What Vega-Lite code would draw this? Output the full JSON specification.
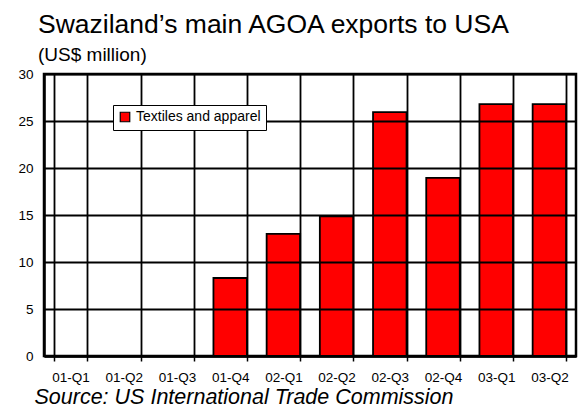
{
  "$schema": "https://vega.github.io/schema/vega-lite/v6.json",
  "width": 532,
  "height": 282,
  "autosize": {"type": "none"},
  "padding": {"left": 44, "top": 74, "right": 11, "bottom": 51},
  "background": "white",
  "config": {
    "font": "Liberation Sans",
    "view": {"stroke": "black", "strokeWidth": 2.5},
    "axis": {
      "labelFont": "Liberation Sans",
      "titleFont": "Liberation Sans",
      "labelColor": "black",
      "titleColor": "black"
    }
  },
  "title": {
    "text": "Swaziland’s main AGOA exports to USA",
    "subtitle": "(US$ million)",
    "anchor": "start",
    "frame": "group",
    "dx": -6,
    "offset": 2,
    "fontSize": 26.5,
    "fontWeight": "normal",
    "color": "black",
    "font": "Liberation Sans",
    "subtitleFont": "Liberation Sans",
    "subtitleFontSize": 19,
    "subtitleColor": "black",
    "subtitlePadding": 8
  },
  "data": {
    "values": [
      {"quarter": "01-Q1", "value": 0, "series": "Textiles and apparel"},
      {"quarter": "01-Q2", "value": 0, "series": "Textiles and apparel"},
      {"quarter": "01-Q3", "value": 0, "series": "Textiles and apparel"},
      {"quarter": "01-Q4", "value": 8.3, "series": "Textiles and apparel"},
      {"quarter": "02-Q1", "value": 13.0, "series": "Textiles and apparel"},
      {"quarter": "02-Q2", "value": 14.85, "series": "Textiles and apparel"},
      {"quarter": "02-Q3", "value": 25.95, "series": "Textiles and apparel"},
      {"quarter": "02-Q4", "value": 18.95, "series": "Textiles and apparel"},
      {"quarter": "03-Q1", "value": 26.8, "series": "Textiles and apparel"},
      {"quarter": "03-Q2", "value": 26.8, "series": "Textiles and apparel"}
    ]
  },
  "mark": {"type": "bar", "stroke": "black", "strokeWidth": 1.8, "zindex": 2},
  "encoding": {
    "x": {
      "field": "quarter",
      "type": "nominal",
      "sort": null,
      "scale": {"paddingInner": 0.37, "paddingOuter": 0.185},
      "axis": {
        "tickBand": "extent",
        "grid": true,
        "gridColor": "#000000",
        "gridWidth": 1.8,
        "zindex": 1,
        "domainColor": "black",
        "domainWidth": 2.5,
        "ticks": true,
        "tickColor": "black",
        "tickWidth": 1.5,
        "tickSize": 5,
        "labelAngle": 0,
        "labelFontSize": 13.5,
        "labelPadding": 9,
        "title": "Source: US International Trade Commission",
        "titleFontSize": 21.5,
        "titleFontStyle": "italic",
        "titleFontWeight": "normal",
        "titleAnchor": "start",
        "titleAlign": "left",
        "titleBaseline": "alphabetic",
        "titleX": -10,
        "titleY": 47
      }
    },
    "y": {
      "field": "value",
      "type": "quantitative",
      "scale": {"domain": [0, 30], "nice": false},
      "axis": {
        "values": [0, 5, 10, 15, 20, 25, 30],
        "grid": true,
        "gridColor": "#000000",
        "gridWidth": 1.8,
        "zindex": 1,
        "domainColor": "black",
        "domainWidth": 2.5,
        "ticks": false,
        "labelFontSize": 13.5,
        "labelPadding": 11,
        "title": null
      }
    },
    "color": {
      "field": "series",
      "type": "nominal",
      "scale": {"range": ["#ff0000"]},
      "legend": {
        "title": null,
        "orient": "none",
        "legendX": 69,
        "legendY": 31,
        "zindex": 3,
        "symbolType": "square",
        "symbolSize": 90,
        "symbolStrokeColor": "black",
        "symbolStrokeWidth": 1.2,
        "symbolFillColor": "#ff0000",
        "labelFontSize": 14,
        "labelColor": "black",
        "labelFont": "Liberation Sans",
        "strokeColor": "black",
        "fillColor": "white",
        "padding": 5
      }
    }
  }
}
